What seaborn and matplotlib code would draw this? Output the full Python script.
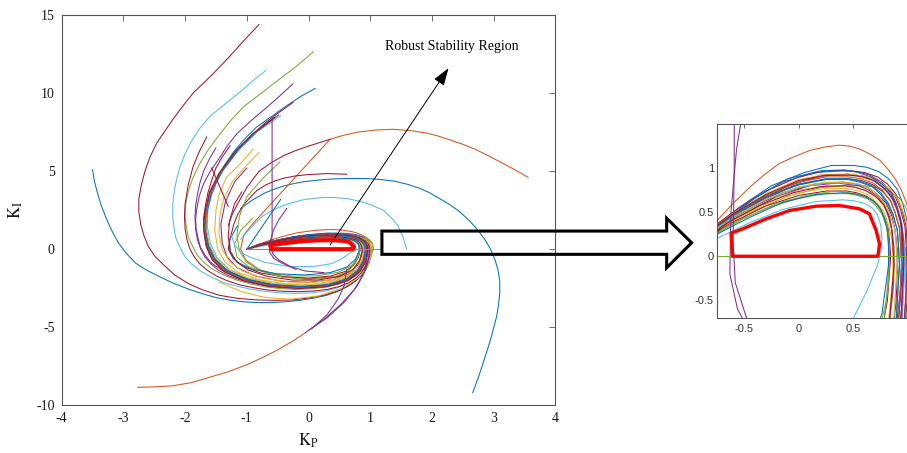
import matplotlib
matplotlib.use("Agg")
import matplotlib.pyplot as plt
import pandas as pd
import seaborn as sns
from matplotlib.patches import Polygon

# ---------------------------------------------------------------------------
# Stability-boundary loci in the (Kp, Ki) plane, one list of vertices each
# ---------------------------------------------------------------------------
locus_blue_wide = [(-3.5, 5.1), (-3.47, 4.35), (-3.42, 3.6), (-3.36, 2.8), (-3.28, 2.0), (-3.19, 1.2),
                   (-3.08, 0.4), (-2.95, -0.28), (-2.8, -0.9), (-2.62, -1.35), (-2.41, -1.77), (-2.19, -2.18),
                   (-1.95, -2.55), (-1.72, -2.85), (-1.5, -3.1), (-1.28, -3.26), (-1.06, -3.37), (-0.83, -3.42),
                   (-0.6, -3.42), (-0.38, -3.37), (-0.15, -3.28), (0.08, -3.14), (0.3, -2.95), (0.48, -2.7),
                   (0.63, -2.4), (0.76, -2.06), (0.86, -1.7), (0.93, -1.3), (0.98, -0.9), (1.01, -0.5),
                   (1.02, -0.1), (1.01, 0.2), (0.99, 0.4), (0.95, 0.6), (0.9, 0.76), (0.82, 0.88),
                   (0.73, 0.96), (0.62, 1.01), (0.5, 1.03), (0.3, 1.03), (0.05, 0.95), (-0.25, 0.8),
                   (-0.55, 0.55), (-0.8, 0.3), (-1.0, 0.0)]
locus_orange_wide = [(3.56, 4.6), (3.33, 5.12), (3.1, 5.6), (2.9, 6.02), (2.7, 6.4), (2.5, 6.72), (2.29, 7.0),
                     (2.1, 7.25), (1.9, 7.45), (1.64, 7.6), (1.37, 7.68), (1.08, 7.63), (0.8, 7.5),
                     (0.57, 7.3), (0.35, 7.04), (-0.9, 1.65), (-1.05, 0.9), (-1.1, 0.0), (-1.02, -0.7),
                     (-0.8, -1.3), (-0.45, -1.72), (0.0, -1.9), (0.45, -1.75), (0.78, -1.35), (0.97, -0.75),
                     (1.05, 0.0), (1.04, 0.25), (1.03, 0.4), (1.0, 0.55), (0.97, 0.65), (0.93, 0.77),
                     (0.88, 0.88), (0.82, 0.98), (0.74, 1.09), (0.65, 1.16), (0.55, 1.22), (0.46, 1.25),
                     (0.37, 1.26), (0.24, 1.24), (0.1, 1.2), (-0.04, 1.13), (-0.18, 1.05), (-0.32, 0.92),
                     (-0.45, 0.78), (-0.6, 0.6), (-0.75, 0.4), (-0.88, 0.2), (-1.0, 0.0)]
locus_darkred_wide = [(-0.80, 14.4), (-1.05, 13.35), (-1.3, 12.25), (-1.58, 11.1), (-1.87, 10.0),
                      (-2.05, 9.1), (-2.2, 8.3), (-2.34, 7.5), (-2.46, 6.8), (-2.57, 5.9), (-2.65, 5.0),
                      (-2.71, 4.1), (-2.75, 3.2), (-2.75, 2.4), (-2.72, 1.6), (-2.67, 0.9), (-2.6, 0.2),
                      (-2.49, -0.45), (-2.35, -1.0), (-2.17, -1.65), (-1.95, -2.2), (-1.72, -2.6),
                      (-1.45, -2.95), (-1.15, -3.15), (-0.85, -3.25), (-0.55, -3.28), (-0.25, -3.25),
                      (0.0, -3.13), (0.25, -2.95), (0.45, -2.7), (0.62, -2.4), (0.75, -2.06), (0.85, -1.7),
                      (0.92, -1.3), (0.97, -0.9), (0.99, -0.5), (1.0, -0.1), (0.99, 0.15), (0.98, 0.35),
                      (0.94, 0.54), (0.89, 0.7), (0.81, 0.82), (0.72, 0.9), (0.6, 0.95), (0.48, 0.97),
                      (0.25, 0.97), (0.0, 0.9), (-0.3, 0.74), (-0.6, 0.5), (-0.8, 0.32), (-1.0, 0.0)]
locus_lightblue_wide = [(-0.69, 11.45), (-0.9, 10.8), (-1.1, 10.1), (-1.35, 9.3), (-1.6, 8.5), (-1.77, 7.7),
                        (-1.9, 6.9), (-2.0, 6.1), (-2.08, 5.3), (-2.14, 4.45), (-2.18, 3.6), (-2.2, 2.85),
                        (-2.2, 2.1), (-2.18, 1.4), (-2.15, 0.7), (-2.08, 0.1), (-2.0, -0.5), (-1.89, -0.97),
                        (-1.75, -1.4), (-1.58, -1.78), (-1.4, -2.1), (-1.18, -2.35), (-0.95, -2.55),
                        (-0.7, -2.7), (-0.45, -2.8), (-0.2, -2.83), (0.05, -2.8), (0.27, -2.68),
                        (0.45, -2.5), (0.61, -2.25), (0.74, -1.95), (0.84, -1.58), (0.9, -1.2), (0.94, -0.8),
                        (0.96, -0.4), (0.97, -0.1), (0.96, 0.2), (0.94, 0.4), (0.9, 0.56), (0.84, 0.69),
                        (0.76, 0.8), (0.66, 0.87), (0.55, 0.91), (0.3, 0.92), (0.0, 0.85), (-0.3, 0.69),
                        (-0.6, 0.47), (-0.8, 0.29), (-1.0, 0.0)]
locus_green_wide = [(0.08, 12.65), (-0.2, 11.7), (-0.5, 10.8), (-0.78, 9.95), (-1.06, 9.1), (-1.27, 8.2),
                    (-1.45, 7.3), (-1.62, 6.4), (-1.76, 5.5), (-1.87, 4.6), (-1.95, 3.7), (-1.99, 2.9),
                    (-2.0, 2.1), (-1.98, 1.45), (-1.95, 0.8), (-1.88, 0.2), (-1.8, -0.4), (-1.69, -0.87),
                    (-1.55, -1.3), (-1.36, -1.68), (-1.15, -2.0), (-0.93, -2.24), (-0.7, -2.42),
                    (-0.45, -2.53), (-0.2, -2.58), (0.05, -2.54), (0.3, -2.42), (0.5, -2.23), (0.66, -1.98),
                    (0.78, -1.66), (0.88, -1.3), (0.95, -0.92), (1.0, -0.55), (1.03, -0.25), (1.05, 0.05),
                    (1.04, 0.25), (1.02, 0.42), (0.98, 0.55), (0.92, 0.66), (0.83, 0.73), (0.72, 0.78),
                    (0.6, 0.8), (0.45, 0.8), (0.2, 0.78), (-0.1, 0.68), (-0.4, 0.52), (-0.7, 0.3),
                    (-1.0, 0.0)]
locus_purple_wide = [(-0.25, 10.6), (-0.47, 9.8), (-0.7, 9.0), (-0.94, 8.2), (-1.16, 7.4), (-1.32, 6.6),
                     (-1.45, 5.8), (-1.59, 5.0), (-1.70, 4.2), (-1.77, 3.4), (-1.81, 2.6), (-1.83, 1.95),
                     (-1.82, 1.3), (-1.79, 0.7), (-1.75, 0.1), (-1.67, -0.42), (-1.57, -0.9), (-1.41, -1.33),
                     (-1.22, -1.7), (-1.0, -1.98), (-0.77, -2.2), (-0.51, -2.35), (-0.25, -2.42),
                     (0.0, -2.4), (0.2, -2.32), (0.4, -2.16), (0.56, -1.95), (0.68, -1.7), (0.78, -1.4),
                     (0.85, -1.06), (0.9, -0.7), (0.93, -0.35), (0.94, 0.0), (0.94, 0.22), (0.93, 0.42),
                     (0.89, 0.6), (0.84, 0.74), (0.76, 0.84), (0.65, 0.92), (0.53, 0.96), (0.4, 0.97),
                     (0.15, 0.95), (-0.15, 0.84), (-0.45, 0.63), (-0.75, 0.34), (-1.0, 0.0)]
locus_blue_top = [(0.11, 10.3), (-0.12, 9.8), (-0.35, 9.2), (-0.6, 8.5), (-0.85, 7.8), (-1.05, 7.0),
                  (-1.22, 6.2), (-1.36, 5.4), (-1.48, 4.6), (-1.56, 3.8), (-1.62, 3.0), (-1.66, 2.25),
                  (-1.68, 1.5), (-1.67, 0.85), (-1.65, 0.2), (-1.6, -0.3), (-1.52, -0.8), (-1.4, -1.22),
                  (-1.25, -1.6), (-1.06, -1.9), (-0.85, -2.15), (-0.6, -2.32), (-0.35, -2.42),
                  (-0.1, -2.44), (0.15, -2.4), (0.35, -2.27), (0.52, -2.08), (0.66, -1.84), (0.77, -1.55),
                  (0.85, -1.2), (0.9, -0.85), (0.93, -0.47), (0.95, -0.1), (0.95, 0.15), (0.93, 0.4),
                  (0.89, 0.58), (0.84, 0.72), (0.76, 0.82), (0.66, 0.9), (0.54, 0.95), (0.42, 0.98),
                  (0.2, 0.97), (-0.1, 0.88), (-0.4, 0.66), (-0.7, 0.38), (-1.0, 0.0)]
locus_darkred_top = [(-0.25, 9.4), (-0.48, 8.75), (-0.7, 8.1), (-0.91, 7.35), (-1.1, 6.6), (-1.26, 5.8),
                     (-1.4, 5.0), (-1.5, 4.2), (-1.58, 3.4), (-1.63, 2.65), (-1.66, 1.9), (-1.66, 1.2),
                     (-1.64, 0.5), (-1.59, -0.08), (-1.52, -0.6), (-1.41, -1.05), (-1.28, -1.45),
                     (-1.1, -1.76), (-0.9, -2.0), (-0.66, -2.2), (-0.42, -2.32), (-0.17, -2.37), (0.08, -2.35),
                     (0.3, -2.24), (0.48, -2.05), (0.62, -1.8), (0.74, -1.5), (0.81, -1.18), (0.86, -0.85),
                     (0.89, -0.5), (0.9, -0.15), (0.9, 0.08), (0.88, 0.3), (0.85, 0.46), (0.8, 0.6),
                     (0.72, 0.7), (0.63, 0.78), (0.52, 0.82), (0.4, 0.84), (0.15, 0.82), (-0.15, 0.72),
                     (-0.45, 0.54), (-0.75, 0.3), (-1.0, 0.0)]
locus_band_1 = [(-0.48, 8.6), (-0.85, 7.5), (-1.14, 6.35), (-1.4, 5.0), (-1.56, 3.8), (-1.64, 2.5),
                (-1.66, 1.4), (-1.62, 0.3), (-1.52, -0.6), (-1.32, -1.35), (-1.0, -1.9), (-0.6, -2.25),
                (-0.15, -2.4), (0.3, -2.28), (0.62, -1.9), (0.8, -1.35), (0.89, -0.72), (0.92, -0.1),
                (0.91, 0.15), (0.9, 0.3), (0.86, 0.48), (0.82, 0.6), (0.75, 0.72), (0.67, 0.8),
                (0.56, 0.85), (0.45, 0.88), (0.25, 0.88), (0.0, 0.82), (-0.3, 0.68), (-0.6, 0.47),
                (-0.8, 0.3), (-1.0, 0.0)]
locus_band_2 = [(-0.52, 8.5), (-0.88, 7.45), (-1.17, 6.3), (-1.42, 4.95), (-1.58, 3.75), (-1.66, 2.45),
                (-1.68, 1.35), (-1.64, 0.25), (-1.54, -0.65), (-1.35, -1.42), (-1.03, -1.98), (-0.62, -2.33),
                (-0.15, -2.48), (0.3, -2.36), (0.63, -1.97), (0.82, -1.4), (0.91, -0.75), (0.94, -0.1),
                (0.93, 0.15), (0.92, 0.32), (0.88, 0.5), (0.84, 0.62), (0.77, 0.74), (0.68, 0.83),
                (0.57, 0.88), (0.45, 0.9), (0.25, 0.9), (0.0, 0.84), (-0.3, 0.69), (-0.6, 0.48),
                (-0.8, 0.3), (-1.0, 0.0)]
locus_band_3 = [(-0.55, 8.45), (-0.9, 7.4), (-1.19, 6.25), (-1.44, 4.9), (-1.6, 3.7), (-1.68, 2.4),
                (-1.7, 1.3), (-1.66, 0.2), (-1.56, -0.7), (-1.36, -1.46), (-1.05, -2.02), (-0.64, -2.38),
                (-0.16, -2.52), (0.3, -2.4), (0.64, -2.0), (0.83, -1.42), (0.93, -0.76), (0.96, -0.1),
                (0.95, 0.15), (0.94, 0.33), (0.9, 0.52), (0.86, 0.64), (0.79, 0.76), (0.7, 0.85),
                (0.59, 0.9), (0.47, 0.92), (0.25, 0.92), (0.0, 0.86), (-0.3, 0.7), (-0.6, 0.48),
                (-0.8, 0.3), (-1.0, 0.0)]
locus_band_4 = [(-0.58, 8.35), (-0.92, 7.3), (-1.2, 6.2), (-1.45, 4.85), (-1.6, 3.65), (-1.67, 2.35),
                (-1.68, 1.3), (-1.63, 0.2), (-1.52, -0.68), (-1.32, -1.4), (-1.0, -1.95), (-0.6, -2.28),
                (-0.13, -2.4), (0.3, -2.3), (0.62, -1.92), (0.8, -1.36), (0.89, -0.72), (0.92, -0.08),
                (0.91, 0.14), (0.9, 0.3), (0.86, 0.47), (0.82, 0.58), (0.75, 0.7), (0.67, 0.79),
                (0.56, 0.84), (0.45, 0.87), (0.25, 0.87), (0.0, 0.81), (-0.3, 0.67), (-0.6, 0.46),
                (-0.8, 0.29), (-1.0, 0.0)]
locus_band_5 = [(-0.62, 8.2), (-0.95, 7.2), (-1.22, 6.1), (-1.46, 4.8), (-1.6, 3.6), (-1.66, 2.3),
                (-1.66, 1.25), (-1.6, 0.2), (-1.48, -0.66), (-1.27, -1.36), (-0.96, -1.88), (-0.56, -2.2),
                (-0.1, -2.3), (0.32, -2.18), (0.62, -1.82), (0.79, -1.3), (0.87, -0.68), (0.9, -0.06),
                (0.89, 0.14), (0.88, 0.3), (0.84, 0.46), (0.8, 0.57), (0.73, 0.68), (0.65, 0.77),
                (0.55, 0.82), (0.45, 0.84), (0.25, 0.84), (0.0, 0.79), (-0.3, 0.65), (-0.6, 0.45),
                (-0.8, 0.28), (-1.0, 0.0)]
locus_band_6 = [(-0.45, 8.55), (-0.82, 7.55), (-1.12, 6.4), (-1.38, 5.05), (-1.55, 3.85), (-1.63, 2.55),
                (-1.64, 1.45), (-1.59, 0.35), (-1.48, -0.55), (-1.28, -1.3), (-0.98, -1.85), (-0.58, -2.2),
                (-0.12, -2.34), (0.3, -2.24), (0.6, -1.88), (0.78, -1.33), (0.87, -0.7), (0.9, -0.08),
                (0.89, 0.13), (0.88, 0.29), (0.84, 0.45), (0.8, 0.56), (0.74, 0.67), (0.66, 0.76),
                (0.56, 0.81), (0.45, 0.83), (0.25, 0.83), (0.0, 0.78), (-0.3, 0.64), (-0.6, 0.44),
                (-0.8, 0.27), (-1.0, 0.0)]
locus_darkred_mid = [(-1.65, 7.2), (-1.77, 6.25), (-1.87, 5.3), (-1.95, 4.1), (-2.0, 2.9), (-2.01, 2.1),
                     (-2.0, 1.3), (-1.97, 0.62), (-1.92, 0.0), (-1.85, -0.5), (-1.76, -0.95), (-1.64, -1.35),
                     (-1.5, -1.7), (-1.32, -2.02), (-1.12, -2.28), (-0.89, -2.47), (-0.65, -2.62),
                     (-0.4, -2.7), (-0.15, -2.72), (0.08, -2.68), (0.3, -2.58), (0.49, -2.4), (0.65, -2.15),
                     (0.77, -1.85), (0.86, -1.5), (0.92, -1.15), (0.96, -0.8), (0.98, -0.45), (0.99, -0.1),
                     (0.98, 0.14), (0.97, 0.34), (0.93, 0.53), (0.88, 0.68), (0.8, 0.79), (0.7, 0.87),
                     (0.58, 0.91), (0.45, 0.93), (0.2, 0.91), (-0.1, 0.8), (-0.4, 0.6), (-0.7, 0.36),
                     (-1.0, 0.0)]
locus_darkred_inner = [(-1.27, 6.63), (-1.4, 5.9), (-1.5, 5.2), (-1.57, 4.4), (-1.63, 3.6), (-1.67, 2.8),
                       (-1.7, 2.0), (-1.7, 1.35), (-1.68, 0.7), (-1.65, 0.15), (-1.6, -0.35), (-1.52, -0.8),
                       (-1.42, -1.2), (-1.28, -1.55), (-1.12, -1.85), (-0.92, -2.09), (-0.7, -2.28),
                       (-0.46, -2.4), (-0.22, -2.45), (0.02, -2.43), (0.25, -2.36), (0.44, -2.2), (0.6, -2.0),
                       (0.72, -1.73), (0.81, -1.42), (0.87, -1.1), (0.91, -0.76), (0.93, -0.42), (0.94, -0.08),
                       (0.93, 0.14), (0.92, 0.32), (0.88, 0.49), (0.84, 0.63), (0.77, 0.73), (0.68, 0.81),
                       (0.57, 0.86), (0.45, 0.88), (0.22, 0.87), (-0.05, 0.8), (-0.35, 0.62), (-0.65, 0.4),
                       (-1.0, 0.0)]
locus_yellow_1 = [(-0.9, 6.4), (-1.1, 5.5), (-1.33, 4.6), (-1.45, 3.5), (-1.5, 2.5), (-1.52, 1.2),
                  (-1.47, 0.0), (-1.35, -0.85), (-1.13, -1.5), (-0.8, -1.95), (-0.38, -2.22), (0.08, -2.25),
                  (0.45, -2.0), (0.7, -1.52), (0.82, -0.9), (0.87, -0.25), (0.87, 0.0), (0.86, 0.22),
                  (0.84, 0.38), (0.8, 0.52), (0.74, 0.63), (0.66, 0.72), (0.56, 0.77), (0.45, 0.8),
                  (0.25, 0.8), (0.0, 0.75), (-0.3, 0.62), (-0.6, 0.43), (-0.8, 0.27), (-1.0, 0.0)]
locus_yellow_2 = [(-0.8, 6.2), (-1.02, 5.3), (-1.24, 4.3), (-1.38, 3.2), (-1.44, 2.1), (-1.45, 1.0),
                  (-1.4, 0.0), (-1.28, -0.8), (-1.06, -1.42), (-0.74, -1.85), (-0.32, -2.1), (0.1, -2.12),
                  (0.46, -1.9), (0.69, -1.45), (0.81, -0.86), (0.86, -0.22), (0.86, 0.0), (0.85, 0.2),
                  (0.82, 0.36), (0.78, 0.5), (0.72, 0.6), (0.64, 0.69), (0.55, 0.74), (0.44, 0.77),
                  (0.25, 0.77), (0.0, 0.72), (-0.3, 0.59), (-0.6, 0.41), (-0.8, 0.26), (-1.0, 0.0)]
locus_green_mid = [(-0.46, 5.6), (-0.75, 4.5), (-1.0, 3.36), (-1.12, 2.1), (-1.16, 0.9), (-1.12, -0.1),
                   (-1.0, -0.85), (-0.76, -1.42), (-0.42, -1.8), (0.0, -1.95), (0.38, -1.82), (0.63, -1.45),
                   (0.76, -0.92), (0.82, -0.3), (0.83, -0.05), (0.82, 0.18), (0.8, 0.34), (0.76, 0.48),
                   (0.7, 0.58), (0.63, 0.65), (0.54, 0.69), (0.45, 0.71), (0.25, 0.71), (0.0, 0.66),
                   (-0.3, 0.54), (-0.6, 0.38), (-0.8, 0.24), (-1.0, 0.0)]
locus_purple_mid = [(-1.0, 5.2), (-1.2, 4.3), (-1.35, 3.0), (-1.42, 1.6), (-1.4, 0.4), (-1.32, -0.5),
                    (-1.15, -1.2), (-0.86, -1.72), (-0.45, -2.05), (0.0, -2.12), (0.4, -1.95), (0.66, -1.55),
                    (0.8, -1.0), (0.86, -0.4), (0.87, -0.1), (0.87, 0.1), (0.85, 0.3), (0.83, 0.45),
                    (0.78, 0.58), (0.72, 0.68), (0.64, 0.75), (0.55, 0.8), (0.35, 0.83), (0.1, 0.8),
                    (-0.2, 0.68), (-0.5, 0.48), (-0.75, 0.3), (-1.0, 0.0)]
locus_purple_outer = [(-1.5, 6.5), (-1.61, 5.75), (-1.7, 5.0), (-1.76, 4.25), (-1.8, 3.5), (-1.83, 2.75),
                      (-1.84, 2.0), (-1.83, 1.3), (-1.8, 0.6), (-1.75, 0.03), (-1.68, -0.5), (-1.58, -0.95),
                      (-1.46, -1.35), (-1.3, -1.69), (-1.1, -1.98), (-0.88, -2.2), (-0.65, -2.38),
                      (-0.4, -2.47), (-0.15, -2.5), (0.08, -2.47), (0.3, -2.38), (0.48, -2.22), (0.64, -2.0),
                      (0.75, -1.72), (0.84, -1.4), (0.89, -1.07), (0.93, -0.74), (0.95, -0.4), (0.96, -0.05),
                      (0.96, 0.16), (0.94, 0.36), (0.9, 0.54), (0.85, 0.68), (0.77, 0.78), (0.68, 0.86),
                      (0.57, 0.91), (0.45, 0.93), (0.2, 0.92), (-0.1, 0.8), (-0.4, 0.6), (-0.7, 0.36),
                      (-1.0, 0.0)]
locus_darkred_short = [(-1.08, 3.68), (-1.2, 2.9), (-1.28, 1.8), (-1.3, 0.8), (-1.27, -0.1), (-1.17, -0.8),
                       (-0.97, -1.35), (-0.66, -1.75), (-0.26, -1.98), (0.15, -1.98), (0.5, -1.75),
                       (0.72, -1.3), (0.83, -0.72), (0.87, -0.1), (0.86, 0.12), (0.85, 0.3), (0.82, 0.45),
                       (0.78, 0.58), (0.71, 0.67), (0.62, 0.74), (0.52, 0.78), (0.42, 0.8), (0.2, 0.79),
                       (-0.05, 0.72), (-0.35, 0.58), (-0.65, 0.38), (-1.0, 0.0)]
locus_green_inner = [(-0.9, 2.0), (-1.1, 1.2), (-1.2, 0.3), (-1.16, -0.5), (-0.98, -1.1), (-0.66, -1.52),
                     (-0.25, -1.72), (0.15, -1.7), (0.48, -1.48), (0.7, -1.05), (0.8, -0.5), (0.83, 0.0),
                     (0.82, 0.2), (0.81, 0.35), (0.77, 0.48), (0.72, 0.58), (0.65, 0.65), (0.56, 0.7),
                     (0.36, 0.74), (0.1, 0.7), (-0.2, 0.6), (-0.5, 0.43), (-0.75, 0.26), (-1.0, 0.0)]
locus_lightblue_inner = [(-1.25, 0.9), (-1.2, 0.3), (-1.1, -0.2), (-0.95, -0.5), (-0.7, -0.85), (-0.3, -1.12),
                         (0.1, -1.1), (0.38, -0.92), (0.5, -0.7), (0.62, -0.4), (0.72, -0.1), (0.75, 0.06),
                         (0.76, 0.2), (0.75, 0.35), (0.72, 0.47), (0.67, 0.55), (0.6, 0.6), (0.5, 0.63),
                         (0.4, 0.64), (0.15, 0.62), (-0.15, 0.53), (-0.45, 0.38), (-0.75, 0.2), (-1.0, 0.0)]
locus_blue_inner = [(-1.15, 1.5), (-1.28, 0.6), (-1.27, -0.2), (-1.15, -0.85), (-0.9, -1.3), (-0.5, -1.58),
                    (-0.05, -1.65), (0.35, -1.5), (0.62, -1.15), (0.76, -0.65), (0.82, -0.1), (0.82, 0.1),
                    (0.81, 0.3), (0.78, 0.44), (0.74, 0.55), (0.68, 0.63), (0.6, 0.68), (0.5, 0.71),
                    (0.4, 0.72), (0.15, 0.7), (-0.15, 0.61), (-0.45, 0.44), (-0.75, 0.25), (-1.0, 0.0)]
locus_darkred_arc = [(-1.3, 1.5), (-1.24, 2.2), (-1.15, 2.9), (-1.0, 3.95), (-0.8, 5.0), (-0.6, 5.55),
                     (-0.4, 6.0), (-0.2, 6.33), (0.0, 6.6), (0.18, 6.83), (0.35, 7.04)]
locus_darkred_reach = [(0.62, 4.8), (0.3, 4.84), (0.0, 4.78), (-0.2, 4.7), (-0.4, 4.55), (-0.56, 4.35),
                       (-0.7, 4.1), (-0.84, 3.75), (-0.95, 3.3), (-1.06, 2.8), (-1.15, 2.2), (-1.21, 1.6),
                       (-1.25, 1.0), (-1.28, 0.5), (-1.3, 0.0), (-1.22, -0.6), (-1.05, -1.12), (-0.78, -1.52),
                       (-0.4, -1.78), (0.0, -1.85), (0.36, -1.72), (0.6, -1.42), (0.74, -0.98), (0.81, -0.5),
                       (0.84, 0.0), (0.83, 0.16), (0.82, 0.3), (0.79, 0.42), (0.75, 0.53), (0.69, 0.62),
                       (0.62, 0.68), (0.53, 0.72), (0.44, 0.74), (0.25, 0.74), (0.0, 0.69), (-0.3, 0.57),
                       (-0.6, 0.39), (-0.8, 0.25), (-1.0, 0.0)]
locus_blue_arc = [(-1.1, 2.6), (-0.92, 3.12), (-0.72, 3.58), (-0.56, 3.84), (-0.4, 4.05), (-0.24, 4.2),
                  (-0.08, 4.32), (0.16, 4.43), (0.4, 4.5), (0.68, 4.53), (0.96, 4.52), (1.18, 4.46),
                  (1.4, 4.35), (1.6, 4.16), (1.8, 3.9), (1.96, 3.62), (2.1, 3.3), (2.29, 2.85), (2.45, 2.4),
                  (2.61, 1.82), (2.75, 1.2), (2.86, 0.6), (2.95, 0.0), (3.02, -0.65), (3.07, -1.3),
                  (3.1, -2.05), (3.1, -2.8), (3.08, -3.55), (3.05, -4.3), (3.0, -5.05), (2.95, -5.8),
                  (2.89, -6.55), (2.83, -7.3), (2.75, -8.25), (2.66, -9.2)]
locus_blue_chord = [(-1.0, 0.0), (-0.45, 3.2)]
locus_lightblue_arc = [(-1.1, 0.6), (-1.03, 0.95), (-0.95, 1.3), (-0.85, 1.72), (-0.75, 2.1), (-0.62, 2.42),
                       (-0.46, 2.72), (-0.28, 2.96), (-0.1, 3.15), (0.05, 3.24), (0.2, 3.3), (0.33, 3.32),
                       (0.46, 3.3), (0.66, 3.22), (0.85, 3.05), (1.04, 2.8), (1.21, 2.5), (1.34, 2.03),
                       (1.45, 1.5), (1.53, 0.8), (1.59, 0.0)]
locus_purple_drop = [(-0.59, 8.38), (-0.59, 1.0), (-0.6, 0.16), (-0.58, -0.3), (-0.48, -0.69),
                     (-0.3, -1.1), (-0.05, -1.4), (0.25, -1.5)]
locus_purple_hook = [(-0.35, 2.62), (-0.48, 1.9), (-0.57, 1.2), (-0.62, 0.5), (-0.63, -0.2), (-0.56, -0.6),
                     (-0.45, -0.85), (-0.2, -1.3)]
locus_purple_low_1 = [(-0.05, -5.35), (0.25, -4.5), (0.52, -3.55), (0.74, -2.6), (0.88, -1.7), (0.95, -1.0),
                      (0.98, -0.4), (0.98, 0.1)]
locus_purple_low_2 = [(0.0, -5.2), (0.3, -4.4), (0.58, -3.4), (0.78, -2.4), (0.9, -1.5), (0.94, -0.8),
                      (0.95, -0.2)]
locus_purple_low_3 = [(0.05, -5.1), (0.3, -4.2), (0.48, -3.2), (0.58, -2.3), (0.62, -1.3)]
locus_orange_low = [(-2.77, -8.85), (-2.5, -8.82), (-2.2, -8.75), (-1.9, -8.55), (-1.6, -8.2), (-1.3, -7.85),
                    (-1.0, -7.4), (-0.75, -6.95), (-0.5, -6.45), (-0.27, -5.92), (-0.05, -5.35)]
locus_yellow_low = [(-1.45, -2.1), (-1.1, -2.7), (-0.7, -3.1), (-0.3, -3.2), (0.15, -3.0), (0.55, -2.5),
                    (0.82, -1.8), (0.97, -1.0), (1.02, -0.2), (1.01, 0.1), (1.0, 0.3), (0.96, 0.48),
                    (0.92, 0.62), (0.84, 0.75), (0.75, 0.84), (0.63, 0.9), (0.5, 0.93), (0.25, 0.93),
                    (0.0, 0.87), (-0.3, 0.71), (-0.6, 0.49), (-0.8, 0.3), (-1.0, 0.0)]
locus_green_axis = [(-1.0, 0.0), (1.18, 0.0)]
locus_darkred_stub = [(-1.57, 5.21), (-1.30, 2.72)]

# Robust stability region (closed outline)
region_kp = [-0.604, -0.619, -0.512, -0.299, -0.085, 0.159, 0.372, 0.555, 0.646, 0.707, 0.738, 0.723, -0.604]
region_ki = [0.0, 0.261, 0.311, 0.424, 0.519, 0.568, 0.576, 0.538, 0.481, 0.292, 0.140, 0.0, 0.0]

# Axis ticks
kp_ticks = [-4, -3, -2, -1, 0, 1, 2, 3, 4]
ki_ticks = [-10, -5, 0, 5, 10, 15]
kp_tick_labels = ["-4", "-3", "-2", "-1", "0", "1", "2", "3", "4"]
ki_tick_labels = ["-10", "-5", "0", "5", "10", "15"]
zoom_kp_ticks = [-0.5, 0.0, 0.5]
zoom_ki_ticks = [-0.5, 0.0, 0.5, 1.0]
zoom_kp_tick_labels = ["-0.5", "0", "0.5"]
zoom_ki_tick_labels = ["-0.5", "0", "0.5", "1"]

# MATLAB-like default line colours
c_blue, c_orange, c_yellow = "#0072BD", "#D95319", "#EDB120"
c_purple, c_green, c_cyan, c_wine = "#7E2F8E", "#77AC30", "#4DBEEE", "#A2142F"

loci = [
    ("blue_wide", locus_blue_wide, c_blue),
    ("orange_low", locus_orange_low, c_orange),
    ("blue_arc", locus_blue_arc, c_blue),
    ("orange_wide", locus_orange_wide, c_orange),
    ("darkred_wide", locus_darkred_wide, c_wine),
    ("lightblue_wide", locus_lightblue_wide, c_cyan),
    ("green_wide", locus_green_wide, c_green),
    ("purple_wide", locus_purple_wide, c_purple),
    ("lightblue_arc", locus_lightblue_arc, c_cyan),
    ("darkred_arc", locus_darkred_arc, c_wine),
    ("darkred_reach", locus_darkred_reach, c_wine),
    ("blue_chord", locus_blue_chord, c_blue),
    ("darkred_mid", locus_darkred_mid, c_wine),
    ("purple_outer", locus_purple_outer, c_purple),
    ("yellow_low", locus_yellow_low, c_yellow),
    ("blue_top", locus_blue_top, c_blue),
    ("darkred_top", locus_darkred_top, c_wine),
    ("green_mid", locus_green_mid, c_green),
    ("yellow_1", locus_yellow_1, c_yellow),
    ("purple_mid", locus_purple_mid, c_purple),
    ("yellow_2", locus_yellow_2, c_yellow),
    ("darkred_inner", locus_darkred_inner, c_wine),
    ("band_6", locus_band_6, c_cyan),
    ("band_1", locus_band_1, c_blue),
    ("band_5", locus_band_5, c_yellow),
    ("band_2", locus_band_2, c_orange),
    ("band_4", locus_band_4, c_blue),
    ("band_3", locus_band_3, c_wine),
    ("green_inner", locus_green_inner, c_green),
    ("blue_inner", locus_blue_inner, c_blue),
    ("lightblue_inner", locus_lightblue_inner, c_cyan),
    ("darkred_short", locus_darkred_short, c_wine),
    ("darkred_stub", locus_darkred_stub, c_wine),
    ("purple_drop", locus_purple_drop, c_purple),
    ("purple_hook", locus_purple_hook, c_purple),
    ("purple_low_1", locus_purple_low_1, c_purple),
    ("purple_low_2", locus_purple_low_2, c_purple),
    ("purple_low_3", locus_purple_low_3, c_purple),
    ("green_axis", locus_green_axis, c_green),
]

rows = []
for name, pts, _ in loci:
    for step, (kp, ki) in enumerate(pts):
        rows.append((name, step, kp, ki))
df = pd.DataFrame(rows, columns=["locus", "step", "Kp", "Ki"])
palette = {name: col for name, _, col in loci}
order = [name for name, _, _ in loci]
region = pd.DataFrame({"Kp": region_kp, "Ki": region_ki})

sns.set_theme(style="white")
plt.rcParams["font.family"] = ["Liberation Serif", "DejaVu Serif"]
plt.rcParams["mathtext.fontset"] = "stix"

W, H = 907, 453
fig = plt.figure(figsize=(W / 100, H / 100), dpi=100)
ax = fig.add_axes([61.7 / W, 1 - 405.3 / H, (555.3 - 61.7) / W, (405.3 - 15) / H])
axz = fig.add_axes([716.7 / W, 1 - 318 / H, 191.5 / W, 194 / H])

for a in (ax, axz):
    sns.lineplot(data=df, x="Kp", y="Ki", hue="locus", hue_order=order, palette=palette,
                 sort=False, estimator=None, legend=False, linewidth=0.75, ax=a)

sns.lineplot(data=region, x="Kp", y="Ki", sort=False, estimator=None, color="#FF0000",
             linewidth=3.0, ax=ax, zorder=5)
sns.lineplot(data=region, x="Kp", y="Ki", sort=False, estimator=None, color="#FF0000",
             linewidth=2.4, ax=axz, zorder=5)

# main axes
ax.set_xlim(-4, 4)
ax.set_ylim(-10, 15)
ax.set_xticks(kp_ticks, labels=kp_tick_labels)
ax.set_yticks(ki_ticks, labels=ki_tick_labels)
ax.tick_params(direction="in", top=True, right=True, length=4, width=0.6, color="#555555",
               labelsize=10, labelcolor="#1a1a1a", pad=5)
for sp in ax.spines.values():
    sp.set_color("#555555")
    sp.set_linewidth(0.8)
ax.set_xlabel(r"$\mathrm{K}_{\mathrm{P}}$", fontsize=12, color="#1a1a1a", va="center")
ax.set_ylabel(r"$\mathrm{K}_{\mathrm{I}}$", fontsize=12, color="#1a1a1a", va="center")
ax.xaxis.set_label_coords(0.5, -0.09)
ax.yaxis.set_label_coords(-0.092, 0.5)

ax.annotate("", xy=(2.27, 11.6), xytext=(0.35, 0.27),
            arrowprops=dict(arrowstyle="-|>,head_length=0.9,head_width=0.3", color="black",
                            lw=0.7, shrinkA=0, shrinkB=0))
ax.text(2.32, 12.97, "Robust Stability Region", ha="center", va="center", fontsize=10, color="black")

# callout arrow leading from the zoomed band to the inset
callout = Polygon([(1.19, 1.16), (5.805, 1.16), (5.805, 1.98), (6.21, 0.41), (5.805, -1.19),
                   (5.805, -0.33), (1.19, -0.33)], closed=True, fill=False, edgecolor="black",
                  linewidth=2.2, joinstyle="miter", clip_on=False, zorder=6)
ax.add_patch(callout)

# zoomed axes
axz.set_xlim(-0.75, 1.0)
axz.set_ylim(-0.7, 1.5)
axz.set_xticks(zoom_kp_ticks, labels=zoom_kp_tick_labels)
axz.set_yticks(zoom_ki_ticks, labels=zoom_ki_tick_labels)
axz.tick_params(direction="in", top=True, right=False, length=3, width=0.6, color="#555555",
                labelsize=8, labelcolor="#333333", pad=2)
for lab in axz.get_xticklabels() + axz.get_yticklabels():
    lab.set_family(["Liberation Sans", "DejaVu Sans"])
axz.tick_params(axis="x", pad=4)
for sp in axz.spines.values():
    sp.set_color("#555555")
    sp.set_linewidth(0.8)
axz.set_xlabel("")
axz.set_ylabel("")

fig.savefig("out.png", dpi=100)
